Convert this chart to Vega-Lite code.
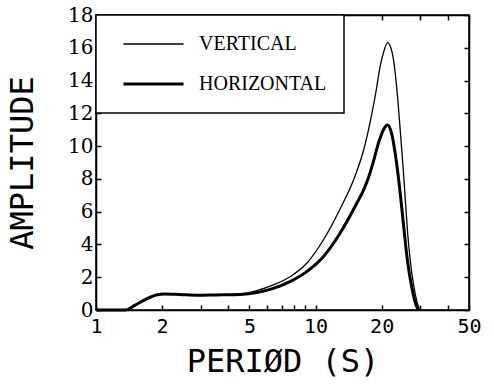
{
  "$schema": "https://vega.github.io/schema/vega-lite/v6.json",
  "width": 373,
  "height": 295,
  "autosize": "none",
  "padding": {"left": 96, "top": 15, "right": 25, "bottom": 74},
  "background": "white",
  "config": {
    "view": {"stroke": "black", "strokeWidth": 1.5},
    "legend": {"strokeWidth": 1.5},
    "axis": {
      "grid": false,
      "domainColor": "black",
      "domainWidth": 1.5,
      "tickColor": "black",
      "tickWidth": 1.5,
      "tickSize": -5,
      "labelColor": "black",
      "titleColor": "black",
      "labelFont": "DejaVu Serif",
      "titleFont": "DejaVu Sans Mono",
      "titleFontWeight": "normal"
    }
  },
  "data": {
    "values": [
      {"series": "VERTICAL", "period": 1, "amplitude": 0},
      {"series": "VERTICAL", "period": 1.36, "amplitude": 0},
      {"series": "VERTICAL", "period": 1.5, "amplitude": 0.28},
      {"series": "VERTICAL", "period": 1.7, "amplitude": 0.68},
      {"series": "VERTICAL", "period": 1.9, "amplitude": 0.93},
      {"series": "VERTICAL", "period": 2.05, "amplitude": 0.98},
      {"series": "VERTICAL", "period": 2.4, "amplitude": 0.95},
      {"series": "VERTICAL", "period": 2.9, "amplitude": 0.9},
      {"series": "VERTICAL", "period": 3.5, "amplitude": 0.92},
      {"series": "VERTICAL", "period": 4.53, "amplitude": 0.98},
      {"series": "VERTICAL", "period": 5.4, "amplitude": 1.18},
      {"series": "VERTICAL", "period": 6.42, "amplitude": 1.53},
      {"series": "VERTICAL", "period": 7.65, "amplitude": 2.03},
      {"series": "VERTICAL", "period": 9.12, "amplitude": 2.85},
      {"series": "VERTICAL", "period": 10.85, "amplitude": 4.27},
      {"series": "VERTICAL", "period": 12.93, "amplitude": 6.16},
      {"series": "VERTICAL", "period": 15.14, "amplitude": 8.18},
      {"series": "VERTICAL", "period": 16.51, "amplitude": 9.7},
      {"series": "VERTICAL", "period": 17.77, "amplitude": 11.53},
      {"series": "VERTICAL", "period": 18.77, "amplitude": 13.18},
      {"series": "VERTICAL", "period": 19.71, "amplitude": 14.89},
      {"series": "VERTICAL", "period": 20.49, "amplitude": 15.8},
      {"series": "VERTICAL", "period": 21.28, "amplitude": 16.31},
      {"series": "VERTICAL", "period": 21.97, "amplitude": 16.05},
      {"series": "VERTICAL", "period": 22.67, "amplitude": 15.25},
      {"series": "VERTICAL", "period": 23.44, "amplitude": 13.54},
      {"series": "VERTICAL", "period": 24.27, "amplitude": 11.1},
      {"series": "VERTICAL", "period": 25.12, "amplitude": 8.48},
      {"series": "VERTICAL", "period": 25.84, "amplitude": 6.04},
      {"series": "VERTICAL", "period": 26.48, "amplitude": 4.15},
      {"series": "VERTICAL", "period": 27.44, "amplitude": 2.26},
      {"series": "VERTICAL", "period": 28.41, "amplitude": 1.02},
      {"series": "VERTICAL", "period": 29.41, "amplitude": 0.2},
      {"series": "VERTICAL", "period": 29.78, "amplitude": 0},
      {"series": "HORIZONTAL", "period": 1, "amplitude": 0},
      {"series": "HORIZONTAL", "period": 1.36, "amplitude": 0},
      {"series": "HORIZONTAL", "period": 1.5, "amplitude": 0.28},
      {"series": "HORIZONTAL", "period": 1.7, "amplitude": 0.68},
      {"series": "HORIZONTAL", "period": 1.9, "amplitude": 0.93},
      {"series": "HORIZONTAL", "period": 2.05, "amplitude": 0.98},
      {"series": "HORIZONTAL", "period": 2.4, "amplitude": 0.95},
      {"series": "HORIZONTAL", "period": 2.9, "amplitude": 0.9},
      {"series": "HORIZONTAL", "period": 3.5, "amplitude": 0.92},
      {"series": "HORIZONTAL", "period": 4.53, "amplitude": 0.95},
      {"series": "HORIZONTAL", "period": 5.4, "amplitude": 1.06},
      {"series": "HORIZONTAL", "period": 6.42, "amplitude": 1.32},
      {"series": "HORIZONTAL", "period": 7.65, "amplitude": 1.73},
      {"series": "HORIZONTAL", "period": 9.12, "amplitude": 2.34},
      {"series": "HORIZONTAL", "period": 10.85, "amplitude": 3.25},
      {"series": "HORIZONTAL", "period": 12.93, "amplitude": 4.68},
      {"series": "HORIZONTAL", "period": 15.41, "amplitude": 6.51},
      {"series": "HORIZONTAL", "period": 16.46, "amplitude": 7.26},
      {"series": "HORIZONTAL", "period": 17.53, "amplitude": 8.18},
      {"series": "HORIZONTAL", "period": 18.48, "amplitude": 9.21},
      {"series": "HORIZONTAL", "period": 19.32, "amplitude": 10.16},
      {"series": "HORIZONTAL", "period": 19.88, "amplitude": 10.65},
      {"series": "HORIZONTAL", "period": 20.52, "amplitude": 11.07},
      {"series": "HORIZONTAL", "period": 21.22, "amplitude": 11.29},
      {"series": "HORIZONTAL", "period": 22.2, "amplitude": 10.78},
      {"series": "HORIZONTAL", "period": 23.4, "amplitude": 8.95},
      {"series": "HORIZONTAL", "period": 24.4, "amplitude": 6.91},
      {"series": "HORIZONTAL", "period": 25.3, "amplitude": 4.88},
      {"series": "HORIZONTAL", "period": 26.2, "amplitude": 3.05},
      {"series": "HORIZONTAL", "period": 27.4, "amplitude": 1.42},
      {"series": "HORIZONTAL", "period": 28.9, "amplitude": 0.2},
      {"series": "HORIZONTAL", "period": 29.5, "amplitude": 0}
    ]
  },
  "layer": [
    {
      "mark": {"type": "line", "interpolate": "monotone", "color": "black"},
      "encoding": {
        "x": {
          "field": "period",
          "type": "quantitative",
          "scale": {"type": "log", "domain": [1, 50], "nice": false},
          "axis": {
            "orient": "bottom",
            "values": [1, 2, 3, 4, 5, 6, 7, 8, 9, 10, 20, 30, 40, 50],
            "labelExpr": "indexof([1, 2, 5, 10, 20, 50], datum.value) >= 0 ? format(datum.value, 'd') : ''",
            "labelFont": "DejaVu Sans Mono",
            "labelFontSize": 20,
            "labelPadding": 11,
            "labelFlush": false,
            "labelOverlap": false,
            "title": "PERIØD (S)",
            "titleFontSize": 32,
            "titlePadding": 10
          }
        },
        "y": {
          "field": "amplitude",
          "type": "quantitative",
          "scale": {"domain": [0, 18], "nice": false},
          "axis": {
            "orient": "left",
            "values": [0, 2, 4, 6, 8, 10, 12, 14, 16, 18],
            "format": "d",
            "labelFontSize": 20,
            "labelPadding": 8,
            "labelFlush": false,
            "labelOverlap": false,
            "title": "AMPLITUDE",
            "titleFontSize": 32,
            "titlePadding": 28
          }
        },
        "strokeWidth": {
          "field": "series",
          "type": "nominal",
          "scale": {"domain": ["VERTICAL", "HORIZONTAL"], "range": [1.3, 3]},
          "legend": {
            "orient": "none",
            "legendX": 0,
            "legendY": 0,
            "title": null,
            "direction": "vertical",
            "strokeColor": "black",
            "fillColor": "white",
            "padding": 17,
            "symbolType": "stroke",
            "symbolSize": 3600,
            "symbolStrokeColor": "black",
            "clipHeight": 24,
            "rowPadding": 16,
            "labelFont": "Liberation Serif",
            "labelFontSize": 20,
            "labelColor": "black",
            "labelOffset": 14,
            "symbolOffset": 9
          }
        }
      }
    },
    {
      "mark": {"type": "line", "interpolate": "monotone", "opacity": 0},
      "encoding": {
        "x": {
          "field": "period",
          "type": "quantitative",
          "scale": {"type": "log", "domain": [1, 50], "nice": false},
          "axis": {
            "orient": "top",
            "values": [1, 2, 3, 4, 5, 6, 7, 8, 9, 10, 20, 30, 40, 50],
            "labels": false,
            "title": null
          }
        },
        "y": {
          "field": "amplitude",
          "type": "quantitative",
          "scale": {"domain": [0, 18], "nice": false},
          "axis": {
            "orient": "right",
            "values": [0, 2, 4, 6, 8, 10, 12, 14, 16, 18],
            "labels": false,
            "title": null
          }
        },
        "detail": {"field": "series"}
      }
    }
  ],
  "resolve": {"axis": {"x": "independent", "y": "independent"}}
}
